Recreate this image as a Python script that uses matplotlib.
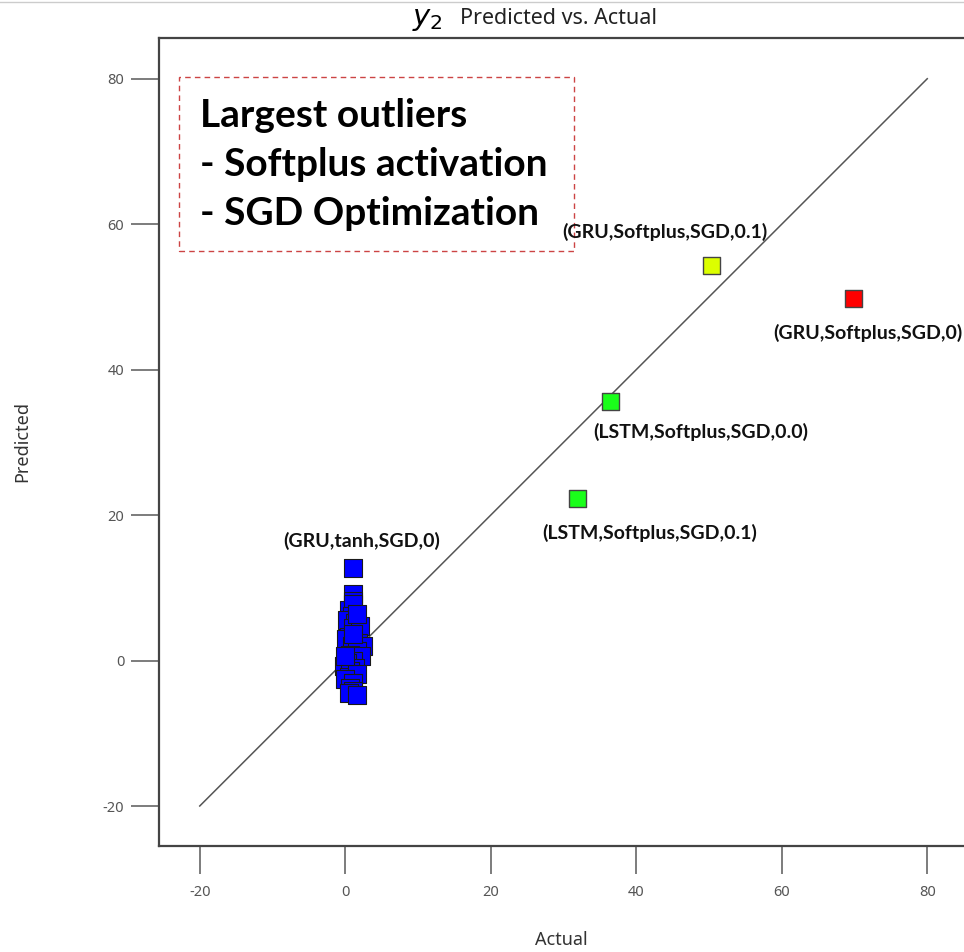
import matplotlib
matplotlib.use("Agg")
import matplotlib.pyplot as plt
from matplotlib.patches import Rectangle
from matplotlib.lines import Line2D

plt.rcParams["axes.unicode_minus"] = False

# ---- data ----
outlier_actual = [50.3, 69.9, 36.5, 31.9]
outlier_pred = [54.3, 49.8, 35.6, 22.3]
outlier_colors = ["#dcff00", "#ff0000", "#1aff1a", "#1aff1a"]
outlier_labels = ["(GRU,Softplus,SGD,0.1)", "(GRU,Softplus,SGD,0)",
                  "(LSTM,Softplus,SGD,0.0)", "(LSTM,Softplus,SGD,0.1)"]

cluster_actual = [1.06, 1.1, 1.1, 0.45, 1.1, 0.9, 0.2, 1.4, 1.1, 2.0, 0.45, 0.14,
                  1.8, 2.5, 0.9, 1.6, 0.6, 2.1, 1.1, 0.2, -0.2, 1.4, 0.7, 0.45,
                  1.6, 0.0, 1.1, 0.7, 1.1, 0.45, 1.6, 0.0, 1.0, 1.6]
cluster_pred = [12.75, 9.2, 8.2, 7.0, 7.8, 6.1, 5.6, 5.2, 4.5, 4.7, 3.3, 2.9,
                2.4, 2.0, 2.0, 1.3, 0.8, 0.6, -0.1, -0.3, -0.8, -1.0, -1.5, -2.2,
                -1.9, -2.6, -3.1, -3.8, -4.2, -4.4, -4.7, 0.6, 3.7, 6.4]
cluster_label = "(GRU,tanh,SGD,0)"

ref_line = [-20, 80]
ticks = [-20, 0, 20, 40, 60, 80]

SANS = ["Noto Sans", "DejaVu Sans"]
BOLD = ["Lato", "DejaVu Sans"]

# ---- figure ----
fig = plt.figure(figsize=(9.64, 9.52), dpi=100)
ax = fig.add_axes([159/964, 1-846/952, (968-159)/964, (846-38)/952])
ax.set_xlim(-25.6, 85.6)
ax.set_ylim(-25.5, 85.6)

ax.plot(ref_line, ref_line, color="#555555", lw=1.1, zorder=2)

ax.scatter(cluster_actual, cluster_pred, marker="s", s=150, c="#0000ff",
           edgecolors="#1a1a1a", linewidths=0.8, zorder=3)
ax.scatter(outlier_actual, outlier_pred, marker="s", s=150, c=outlier_colors,
           edgecolors="#444444", linewidths=1.0, zorder=3)

lab_font = dict(family=BOLD, fontweight="bold", fontsize=14, color="#111111")
ax.text(43.9, 58.9, outlier_labels[0], ha="center", va="center", **lab_font)
ax.text(84.8, 45.1, outlier_labels[1], ha="right", va="center", clip_on=False, **lab_font)
ax.text(48.8, 31.4, outlier_labels[2], ha="center", va="center", **lab_font)
ax.text(41.8, 17.6, outlier_labels[3], ha="center", va="center", **lab_font)
ax.text(2.2, 16.5, cluster_label, ha="center", va="center", **lab_font)

# annotation box
ax.add_patch(Rectangle((-22.8, 56.3), 54.3, 24.0, fill=False, edgecolor="#cc4444",
                       linestyle=(0, (4, 3)), lw=1.0, zorder=1))
ax.text(-20.0, 68.2, "Largest outliers\n- Softplus activation\n- SGD Optimization",
        ha="left", va="center", family=BOLD, fontweight="bold",
        fontsize=28, linespacing=1.47, color="black")

ax.set_xticks(ticks)
ax.set_yticks(ticks)
ax.tick_params(direction="out", length=20, width=1.2, color="#666666",
               labelsize=10.5, labelcolor="#555555")
ax.tick_params(axis="x", pad=8)
ax.tick_params(axis="y", pad=5)
for lab in ax.get_xticklabels() + ax.get_yticklabels():
    lab.set_family(SANS)
for side in ["left", "bottom", "top"]:
    ax.spines[side].set_color("#444444")
    ax.spines[side].set_linewidth(1.6)
ax.spines["right"].set_visible(False)

# thin frame line at top of figure
fig.add_artist(Line2D([0, 1], [1 - 1.5/952, 1 - 1.5/952], transform=fig.transFigure,
                      color="#cccccc", lw=1.0))

fig.text(412/964, 1-19/952, r"$y_2$", ha="left", va="center", fontsize=21, family="DejaVu Serif")
fig.text(460/964, 1-18/952, "Predicted vs. Actual", ha="left", va="center", fontsize=15.5,
         family=SANS, color="#222222")
fig.text(561/964, 1-940/952, "Actual", ha="center", va="center", fontsize=13,
         family=SANS, color="#333333")
fig.text(22/964, 1-441/952, "Predicted", ha="center", va="center", rotation=90, fontsize=13,
         family=SANS, color="#333333")

fig.savefig("out.png", dpi=100)
